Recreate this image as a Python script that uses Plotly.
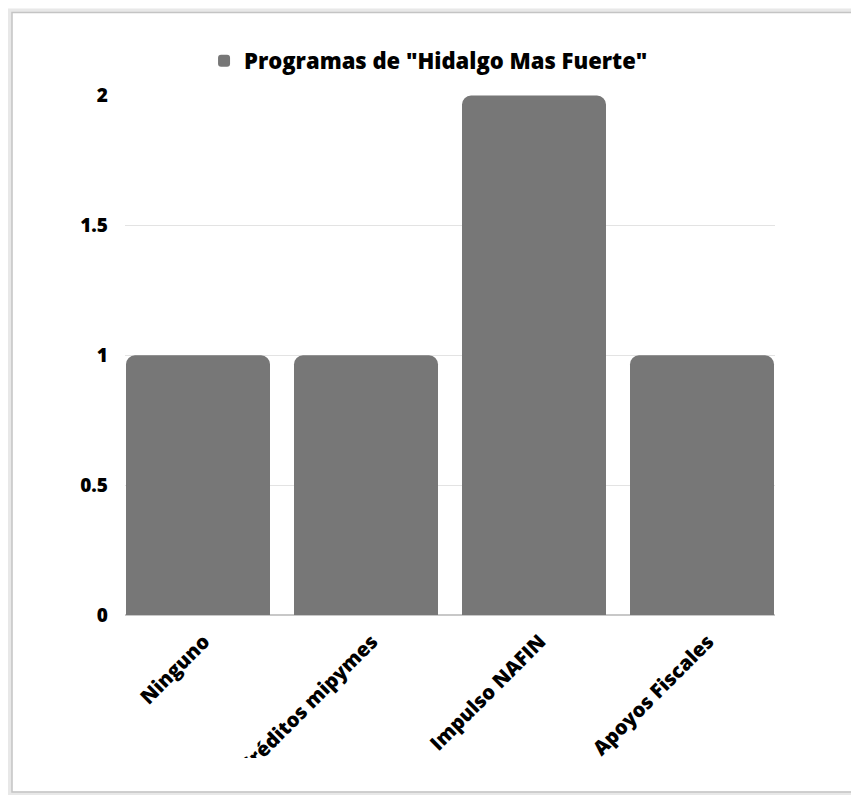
import plotly.graph_objects as go

categories = ["Ninguno", "Créditos mipymes", "Impulso NAFIN", "Apoyos Fiscales"]
values = [1, 1, 2, 1]
series_name = 'Programas de "Hidalgo Mas Fuerte"'
y_ticks = [0, 0.5, 1, 1.5, 2]
y_ticklabels = ["0", "0.5", "1", "1.5", "2"]

FONT = "Open Sans"

# target window-pixel geometry (body margin removed below)
PL, PR, PT, PB = 125, 775, 95, 615
W, H = 851, 795
L, T = PL, PT
R, B = W - PR, H - PB
pw, ph = PR - PL, PB - PT

def px_x(p):
    return (p - PL) / pw

def px_y(p):
    return (PB - p) / ph

# category spacing 168 px, first bar centre at x=198 px
step = 168.0
x_lo = (PL - 198) / step
x_hi = x_lo + pw / step
lab_shift = 6 / step  # labels sit slightly right of bar centres

fig = go.Figure()
fig.add_trace(go.Bar(
    x=list(range(len(categories))), y=values, name=series_name,
    marker=dict(color="#777777", cornerradius=9, line=dict(width=0)),
    showlegend=True,
))
# carrier for the category-label axis
fig.add_trace(go.Scatter(x=[None], y=[None], xaxis="x2", yaxis="y",
                         showlegend=False, hoverinfo="skip"))

fig.update_layout(
    width=W, height=H,
    margin=dict(l=L, r=R, t=T, b=B),
    paper_bgcolor="white", plot_bgcolor="white",
    bargap=24 / step,
    font=dict(family=FONT, color="#000000"),
    showlegend=True,
    legend=dict(
        orientation="h", x=0.467, xanchor="center", y=px_y(61), yanchor="middle",
        font=dict(family=FONT, size=22, weight=800, color="#000000"),
        itemwidth=30,
    ),
    xaxis=dict(
        range=[x_lo, x_hi], showticklabels=False,
        showgrid=False, zeroline=False, showline=False, ticks="",
        automargin=False,
    ),
    xaxis2=dict(
        overlaying="x", anchor="y", side="bottom",
        range=[x_lo - lab_shift, x_hi - lab_shift],
        tickvals=list(range(len(categories))), ticktext=categories,
        tickangle=-45, showgrid=False, zeroline=False, showline=False,
        tickfont=dict(family=FONT, size=20, weight=800, color="#000000"),
        ticks="", automargin=False, ticklabelstandoff=10,
    ),
    yaxis=dict(
        range=[0, 2.002], tickvals=y_ticks, ticktext=y_ticklabels,
        showgrid=True, gridcolor="#e3e3e3", gridwidth=1,
        zeroline=True, zerolinecolor="#c8c8c8", zerolinewidth=2,
        showline=False, ticks="", ticklabelstandoff=16,
        tickfont=dict(family=FONT, size=19, weight=800, color="#000000"),
        automargin=False,
    ),
    shapes=[
        # clip area below x labels
        dict(type="rect", xref="paper", yref="paper",
             x0=px_x(13), x1=px_x(1200), y0=px_y(790), y1=px_y(758),
             fillcolor="white", line=dict(width=0), layer="above"),
        # clip top of legend text
        dict(type="rect", xref="paper", yref="paper",
             x0=px_x(13), x1=px_x(1200), y0=px_y(51), y1=px_y(14),
             fillcolor="white", line=dict(width=0), layer="above"),
        # frame shadow
        dict(type="rect", xref="paper", yref="paper",
             x0=px_x(10), x1=px_x(1200), y0=px_y(793.5), y1=px_y(10.5),
             fillcolor="rgba(0,0,0,0)", line=dict(color="#e8e8e8", width=4), layer="above"),
        # frame
        dict(type="rect", xref="paper", yref="paper",
             x0=px_x(12), x1=px_x(1200), y0=px_y(792), y1=px_y(12.5),
             fillcolor="rgba(0,0,0,0)", line=dict(color="#c4c4c4", width=1.5), layer="above"),
    ],
)

fig.write_html(
    "out.html",
    config={"displayModeBar": False},
    post_script="document.body.style.margin='0';document.body.style.overflow='hidden';",
)
